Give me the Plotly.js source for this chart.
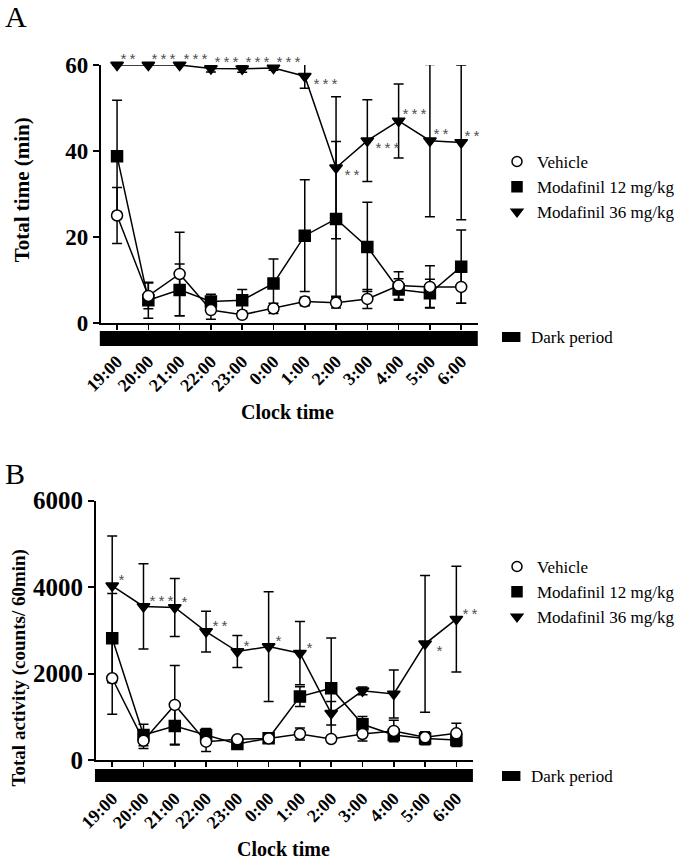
<!DOCTYPE html>
<html>
<head>
<meta charset="utf-8">
<script src="https://cdn.plot.ly/plotly-3.0.1.min.js"></script>
<style>
  html, body { margin: 0; padding: 0; background: #fff; overflow: hidden; }
  #chart { width: 680px; height: 860px; }
</style>
</head>
<body>
<div id="chart"></div>
<script>
// clock times (x categories)
const times = ["19:00", "20:00", "21:00", "22:00", "23:00", "0:00", "1:00", "2:00", "3:00", "4:00", "5:00", "6:00"];

// panel A - total time (min), mean and error
const vehTime = [25, 6.3, 11.4, 3.0, 1.9, 3.4, 5.0, 4.7, 5.6, 8.7, 8.4, 8.4];
const vehTimeErr = [6.5, 3.0, 9.7, 2.1, 0.8, 1.2, 1.0, 1.2, 2.2, 3.2, 4.9, 3.8];
const mod12Time = [38.8, 5.3, 7.7, 5.0, 5.3, 9.2, 20.3, 24.2, 17.7, 7.8, 6.9, 13.1];
const mod12TimeErr = [13.0, 4.2, 6.0, 1.7, 2.5, 5.7, 13.0, 18.0, 10.4, 2.5, 3.3, 8.5];
const mod36Time = [60, 60, 60, 59.2, 59.1, 59.3, 57.4, 36.1, 42.4, 47.0, 42.4, 42.0];
const mod36TimeErr = [0, 0, 0, 0.8, 0.8, 0.5, 2.8, 16.5, 9.5, 8.6, 17.7, 18.0];
const starsA = ["**", "***", "***", "***", "***", "***", "***", "**", "***", "***", "**", "**"];
const starsABelow = [false, false, false, false, false, false, true, true, true, false, false, false];

// panel B - total activity (counts / 60 min)
const vehAct = [1890, 447, 1273, 424, 479, 500, 602, 486, 602, 671, 525, 617];
const vehActErr = [830, 180, 910, 230, 60, 80, 140, 60, 160, 250, 120, 230];
const mod12Act = [2817, 579, 787, 579, 370, 502, 1466, 1660, 826, 579, 500, 463];
const mod12ActErr = [1030, 250, 440, 150, 60, 80, 230, 1160, 180, 100, 150, 150];
const mod36Act = [4028, 3550, 3526, 2970, 2507, 2623, 2470, 1080, 1600, 1528, 2685, 3257];
const mod36ActErr = [1150, 985, 670, 470, 370, 1270, 730, 270, 90, 555, 1580, 1220];
const starsB = ["*", "***", "*", "**", "*", "*", "*", "", "", "", "*", "**"];
const starsBBelow = [false, false, false, false, false, false, false, false, false, false, true, false];

const W = 680, H = 860;
const px = v => v / W;
const py = v => 1 - v / H;

const serif = "Liberation Serif";

function series(x, y, err, symbol, fill, xa, ya) {
    return {
        x: x, y: y,
        type: "scatter",
        mode: "lines+markers",
        xaxis: xa, yaxis: ya,
        showlegend: false,
        cliponaxis: false,
        line: { color: "#000", width: 1.5 },
        marker: { symbol: symbol, size: 11, color: fill, line: { color: "#000", width: 1.5 } },
        error_y: { type: "data", array: err, visible: true, color: "#000", thickness: 1.5, width: 5 }
    };
}

function legendItem(name, symbol, fill, legend) {
    return {
        x: [null], y: [null],
        type: "scatter", mode: "markers",
        name: name, legend: legend,
        marker: { symbol: symbol, size: 10, color: fill, line: { color: "#000", width: 1.5 } }
    };
}

const traces = [
    series(times, mod36Time, mod36TimeErr, "triangle-down", "#000", "x", "y"),
    series(times, mod12Time, mod12TimeErr, "square", "#000", "x", "y"),
    series(times, vehTime, vehTimeErr, "circle", "#fff", "x", "y"),
    series(times, mod36Act, mod36ActErr, "triangle-down", "#000", "x2", "y2"),
    series(times, mod12Act, mod12ActErr, "square", "#000", "x2", "y2"),
    series(times, vehAct, vehActErr, "circle", "#fff", "x2", "y2"),
    legendItem("Vehicle", "circle", "#fff", "legend"),
    legendItem("Modafinil 12 mg/kg", "square", "#000", "legend"),
    legendItem("Modafinil 36 mg/kg", "triangle-down", "#000", "legend"),
    legendItem("Vehicle", "circle", "#fff", "legend2"),
    legendItem("Modafinil 12 mg/kg", "square", "#000", "legend2"),
    legendItem("Modafinil 36 mg/kg", "triangle-down", "#000", "legend2")
];

// significance stars next to the 36 mg/kg points
const annotations = [];
function addStars(stars, below, yvals, xa, ya, up, down) {
    stars.forEach((s, i) => {
        if (!s) return;
        const b = below[i];
        annotations.push({
            x: times[i], y: yvals[i], xref: xa, yref: ya,
            text: s, showarrow: false,
            xanchor: "left", yanchor: "middle",
            xshift: b ? down[0] : up[0], yshift: b ? down[1] : up[1],
            font: { family: "Liberation Mono", size: 15, color: "#4d4d4d" }
        });
    });
}
addStars(starsA, starsABelow, mod36Time, "x", "y", [0, 4], [5, -10]);
addStars(starsB, starsBBelow, mod36Act, "x2", "y2", [3, 3], [8, -10]);

function textAt(text, x, y, size, opts) {
    return Object.assign({
        text: text, x: px(x), y: py(y), xref: "paper", yref: "paper",
        showarrow: false, xanchor: "center", yanchor: "middle",
        font: { family: serif, size: size, color: "#000" }
    }, opts || {});
}

const boldFont = size => ({ family: serif, size: size, weight: "bold", color: "#000" });

annotations.push(
    textAt("A", 3, 17, 30, { xanchor: "left" }),
    textAt("B", 3, 474, 30, { xanchor: "left" }),
    textAt("Total time (min)", 23, 190, 21, { textangle: -90, font: boldFont(21) }),
    textAt("Total activity (counts/ 60min)", 20, 668, 19, { textangle: -90, font: boldFont(19) }),
    textAt("Clock time", 297, 412, 20, { font: boldFont(20) }),
    textAt("Clock time", 293, 849, 20, { font: boldFont(20) }),
    textAt("Dark period", 546, 337, 17, { xanchor: "left" }),
    textAt("Dark period", 546, 776, 17, { xanchor: "left" })
);

const shapes = [
    // dark period bars under each x axis
    { type: "rect", xref: "paper", yref: "paper", x0: px(103), x1: px(493), y0: py(331), y1: py(346), fillcolor: "#000", line: { width: 0 } },
    { type: "rect", xref: "paper", yref: "paper", x0: px(98), x1: px(488), y0: py(769), y1: py(782), fillcolor: "#000", line: { width: 0 } },
    // legend boxes for dark period
    { type: "rect", xref: "paper", yref: "paper", x0: px(518), x1: px(537), y0: py(332), y1: py(342), fillcolor: "#000", line: { width: 0 } },
    { type: "rect", xref: "paper", yref: "paper", x0: px(518), x1: px(537), y0: py(771), y1: py(781), fillcolor: "#000", line: { width: 0 } }
];

const xAxisBase = {
    type: "category",
    categoryorder: "array",
    categoryarray: times,
    range: [-0.52, 11.53],
    showline: true, linecolor: "#000", linewidth: 2,
    ticks: "outside", ticklen: 5, tickwidth: 1.5, tickcolor: "#000",
    tickangle: -45,
    ticklabelstandoff: 14,
    tickfont: boldFont(18),
    showgrid: false, zeroline: false, fixedrange: true
};

const yAxisBase = {
    showline: true, linecolor: "#000", linewidth: 2,
    ticks: "outside", ticklen: 6, tickwidth: 2, tickcolor: "#000",
    showgrid: false, zeroline: false, fixedrange: true
};

const legendBase = {
    xanchor: "left", yanchor: "top",
    bgcolor: "rgba(0,0,0,0)", borderwidth: 0,
    itemwidth: 30,
    font: { family: serif, size: 17, color: "#000" }
};

const layout = {
    width: W, height: H,
    margin: { l: 0, r: 0, t: 0, b: 0 },
    paper_bgcolor: "#fff",
    plot_bgcolor: "#fff",
    xaxis: Object.assign({}, xAxisBase, { domain: [px(104), px(493)], anchor: "y" }),
    yaxis: Object.assign({}, yAxisBase, { domain: [py(323), py(65)], range: [0, 60], tickvals: [0, 20, 40, 60], tickfont: boldFont(23), anchor: "x" }),
    xaxis2: Object.assign({}, xAxisBase, { domain: [px(99), px(488)], anchor: "y2" }),
    yaxis2: Object.assign({}, yAxisBase, { domain: [py(760), py(500.5)], range: [0, 6000], tickvals: [0, 2000, 4000, 6000], tickfont: boldFont(25), anchor: "x2" }),
    legend: Object.assign({}, legendBase, { x: px(513), y: py(144) }),
    legend2: Object.assign({}, legendBase, { x: px(513), y: py(549) }),
    shapes: shapes,
    annotations: annotations
};

Plotly.newPlot("chart", traces, layout, { displayModeBar: false, staticPlot: true });
</script>
</body>
</html>
